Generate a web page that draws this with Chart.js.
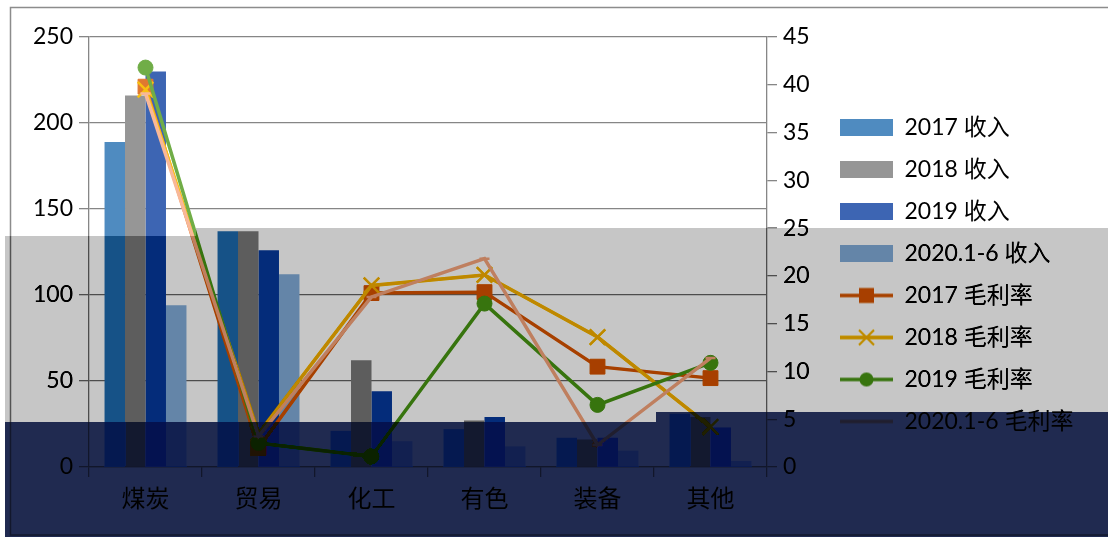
<!DOCTYPE html>
<html>
<head>
<meta charset="utf-8">
<script src="https://cdn.jsdelivr.net/npm/chart.js@4/dist/chart.umd.min.js"></script>
<style>
  html, body { margin: 0; padding: 0; background: #fff; }
</style>
</head>
<body>
<canvas id="chart" width="1108" height="537"></canvas>
<script>
const categories = ['煤炭', '贸易', '化工', '有色', '装备', '其他'];
const income2017 = [189, 137, 21, 22, 17, 31];
const income2018 = [216, 137, 62, 27, 16, 29];
const income2019 = [230, 126, 44, 29, 17, 23];
const income2020 = [94, 112, 15, 12, 9.5, 3.5];
const margin2017 = [39.8, 2.0, 18.2, 18.3, 10.5, 9.3];
const margin2018 = [39.5, 3.5, 19.0, 20.1, 13.6, 4.2];
const margin2019 = [41.8, 2.5, 1.1, 17.1, 6.5, 10.9];
const margin2020 = [39.1, 3.2, 17.8, 21.8, 2.3, 11.4];
const leftTicks = [0, 50, 100, 150, 200, 250];
const rightTicks = [0, 5, 10, 15, 20, 25, 30, 35, 40, 45];

const fontFamily = 'Lato, "Noto Sans CJK SC", sans-serif';
const numFont = { family: fontFamily, size: 23 };
const axisGray = '#868686';

// legend icon: line with marker through it, like excel
const legendIcon = (color, style, r) => {
	const c = document.createElement('canvas');
	c.width = 53;
	c.height = 24;
	const g = c.getContext('2d');
	g.strokeStyle = color;
	g.fillStyle = color;
	g.lineWidth = 3.5;
	g.beginPath();
	g.moveTo(0, 12);
	g.lineTo(53, 12);
	g.stroke();
	if (style == 'rect') {
		g.fillRect(26.5 - r, 12 - r, 2 * r, 2 * r);
	} else if (style == 'circle') {
		g.beginPath();
		g.arc(26.5, 12, r, 0, Math.PI * 2);
		g.fill();
	} else if (style == 'cross') {
		g.lineWidth = 2;
		g.beginPath();
		g.moveTo(26.5 - r, 12 - r);
		g.lineTo(26.5 + r, 12 + r);
		g.moveTo(26.5 + r, 12 - r);
		g.lineTo(26.5 - r, 12 + r);
		g.stroke();
	}
	return c;
};

const lineSeries = [
	{ label: '2017 毛利率', data: margin2017, color: '#e07830', style: 'rect', radius: 10.5, icon: ['rect', 7.5], order: 4 },
	{ label: '2018 毛利率', data: margin2018, color: '#f8c010', style: 'crossRot', radius: 11, icon: ['cross', 7.5], order: 3 },
	{ label: '2019 毛利率', data: margin2019, color: '#70ad47', style: 'circle', radius: 7.5, icon: ['circle', 7], order: 2 },
	{ label: '2020.1-6 毛利率', data: margin2020, color: '#f8b898', style: 'line', radius: 5, icon: ['none', 0], order: 1 },
];

const barSeries = [
	{ label: '2017 收入', data: income2017, color: '#4f8bc0' },
	{ label: '2018 收入', data: income2018, color: '#969696' },
	{ label: '2019 收入', data: income2019, color: '#3d65b3' },
	{ label: '2020.1-6 收入', data: income2020, color: '#9dbee1' },
];

const datasets = [];
barSeries.forEach((s) => {
	datasets.push({
		type: 'bar',
		label: s.label,
		data: s.data,
		backgroundColor: s.color,
		borderWidth: 0,
		yAxisID: 'y',
		categoryPercentage: 0.725,
		barPercentage: 1.0,
		order: 10,
	});
});
lineSeries.forEach((s) => {
	datasets.push({
		type: 'line',
		label: s.label,
		data: s.data,
		borderColor: s.color,
		backgroundColor: s.color,
		pointBackgroundColor: s.color,
		pointBorderColor: s.color,
		pointStyle: s.style,
		pointRadius: s.radius,
		pointBorderWidth: s.style == 'crossRot' || s.style == 'line' ? 2.5 : 1,
		borderWidth: 3.5,
		tension: 0,
		yAxisID: 'y1',
		order: s.order,
		legendImg: legendIcon(s.color, s.icon[0], s.icon[1]),
	});
});

// work out the legend width so its items start at x=840
const measure = document.createElement('canvas').getContext('2d');
measure.font = '23px ' + fontFamily;
let longest = 0;
datasets.forEach((d) => {
	longest = Math.max(longest, measure.measureText(d.label).width);
});
const legendWidth = 19 + 53 + 11.5 + longest + 10;
const padRight = Math.max(0, 1108 - 821 - legendWidth);

// white page, outer frame, then the grey and navy bands of the picture on top
const shadeBands = {
	id: 'shadeBands',
	beforeDraw(chart) {
		const ctx = chart.ctx;
		ctx.save();
		ctx.fillStyle = '#ffffff';
		ctx.fillRect(0, 0, chart.width, chart.height);
		ctx.strokeStyle = '#8c8c8c';
		ctx.lineWidth = 1.5;
		ctx.strokeRect(10.5, 7.5, chart.width, 527.5);
		ctx.restore();
	},
	afterDraw(chart) {
		const ctx = chart.ctx;
		const greyBand = () => {
			ctx.beginPath();
			ctx.moveTo(5, 236);
			ctx.lineTo(196, 236);
			ctx.lineTo(196, 228);
			ctx.lineTo(chart.width, 228);
			ctx.lineTo(chart.width, 412);
			ctx.lineTo(656, 412);
			ctx.lineTo(656, 422);
			ctx.lineTo(5, 422);
			ctx.closePath();
		};
		const navyBand = () => {
			ctx.beginPath();
			ctx.moveTo(5, 422);
			ctx.lineTo(656, 422);
			ctx.lineTo(656, 412);
			ctx.lineTo(chart.width, 412);
			ctx.lineTo(chart.width, chart.height);
			ctx.lineTo(5, chart.height);
			ctx.closePath();
		};
		ctx.save();
		// grey band = subtract 57 from every channel
		greyBand();
		ctx.globalCompositeOperation = 'difference';
		ctx.fillStyle = '#ffffff';
		ctx.fill();
		ctx.globalCompositeOperation = 'lighter';
		ctx.fillStyle = 'rgb(57,57,57)';
		ctx.fill();
		ctx.globalCompositeOperation = 'difference';
		ctx.fillStyle = '#ffffff';
		ctx.fill();
		// navy band
		navyBand();
		ctx.globalCompositeOperation = 'saturation';
		ctx.fillStyle = '#0000ff';
		ctx.fill();
		ctx.globalCompositeOperation = 'multiply';
		ctx.fillStyle = 'rgb(32,42,80)';
		ctx.fill();
		ctx.restore();
	},
};

new Chart(document.getElementById('chart'), {
	type: 'bar',
	data: { labels: categories, datasets: datasets },
	options: {
		responsive: false,
		animation: false,
		devicePixelRatio: 1,
		layout: { padding: { left: 0, top: 12, right: padRight, bottom: 0 } },
		plugins: {
			tooltip: { enabled: false },
			// empty title only pushes the plot area down to y=37
			title: {
				display: true,
				text: ' ',
				fullSize: false,
				font: { size: 10, lineHeight: 1 },
				padding: { top: 15, bottom: 0 },
			},
			legend: {
				position: 'right',
				maxWidth: 500,
				labels: {
					usePointStyle: true,
					pointStyleWidth: 53,
					boxHeight: 17,
					padding: 19,
					color: '#000',
					font: numFont,
					sort: (a, b) => a.datasetIndex - b.datasetIndex,
					generateLabels(chart) {
						const items = Chart.defaults.plugins.legend.labels.generateLabels(chart);
						items.forEach((it) => {
							const ds = chart.data.datasets[it.datasetIndex];
							if (ds.type == 'line') {
								it.pointStyle = ds.legendImg;
							} else {
								it.pointStyle = 'rect';
								it.lineWidth = 0;
							}
						});
						return items;
					},
				},
			},
		},
		scales: {
			x: {
				offset: true,
				grid: { display: true, drawOnChartArea: false, drawTicks: true, tickLength: 10, color: axisGray, lineWidth: 1.3, offset: true },
				border: { color: axisGray, width: 1.3 },
				ticks: { color: '#000', padding: 6, font: { family: '"Noto Sans CJK SC", sans-serif', size: 24 } },
				afterFit(s) { s.height = 70; },
			},
			y: {
				position: 'left',
				min: 0,
				max: 250,
				afterBuildTicks(s) { s.ticks = leftTicks.map((v) => ({ value: v })); },
				ticks: { color: '#000', padding: 6, font: numFont },
				grid: { color: axisGray, lineWidth: 1.3, tickLength: 10 },
				border: { color: axisGray, width: 1.3 },
				afterFit(s) { s.width = 89; },
			},
			y1: {
				position: 'right',
				min: 0,
				max: 45,
				afterBuildTicks(s) { s.ticks = rightTicks.map((v) => ({ value: v })); },
				ticks: { color: '#000', padding: 6, font: numFont },
				grid: { drawOnChartArea: false, color: axisGray, lineWidth: 1.3, tickLength: 10 },
				border: { color: axisGray, width: 1.3 },
				afterFit(s) { s.width = 54; },
			},
		},
	},
	plugins: [shadeBands],
});
</script>
</body>
</html>
